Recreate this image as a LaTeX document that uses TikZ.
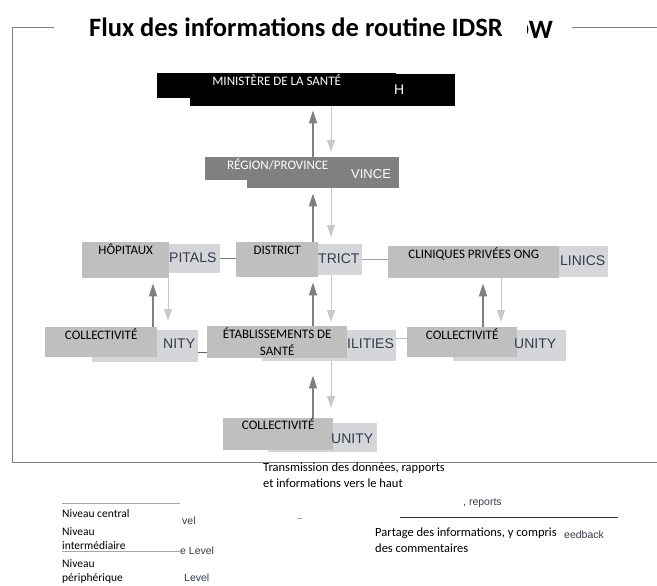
\documentclass[tikz,border=0pt]{standalone}
\usepackage{fontspec}
\setmainfont{Carlito}
\newfontfamily\arialfont{Liberation Sans}
\usetikzlibrary{arrows.meta,positioning,calc}

\definecolor{boxgray}{HTML}{BFBFBF}
\definecolor{backgray}{HTML}{D5D6D9}
\definecolor{regiongray}{HTML}{808080}
\definecolor{fragtext}{HTML}{333B4D}
\definecolor{upgray}{HTML}{7F7F7F}
\definecolor{downgray}{HTML}{C9C9C9}
\definecolor{linkgray}{HTML}{A6A6A6}
\definecolor{framegray}{HTML}{808080}

\newcommand{\lblfont}{\fontsize{13}{17}\selectfont}
\newcommand{\fragfont}{\arialfont\fontsize{14}{16}\selectfont}
\newcommand{\legfont}{\fontsize{11.5}{14}\selectfont}
\newcommand{\flowfont}{\fontsize{12.5}{16}\selectfont}

\begin{document}
\begin{tikzpicture}[
    x=1pt, y=-1pt,
    back/.style={fill=backgray, anchor=north west, inner sep=0pt},
    front/.style={fill=boxgray, anchor=north west, inner sep=0pt},
    lbl/.style={font=\lblfont, anchor=base, yshift=-12.5pt, inner sep=0pt, align=center},
    frag/.style={font=\fragfont, text=fragtext, inner sep=0pt, anchor=west},
    uparr/.style={draw=upgray, line width=1.4pt, -{Triangle[length=13pt,width=8pt]}},
    downarr/.style={draw=downgray, line width=0.8pt, -{Triangle[length=12pt,width=8pt]}},
    link/.style={draw=linkgray, line width=0.7pt},
    legtext/.style={font=\legfont, anchor=base west, inner sep=0pt, align=left},
    legfrag/.style={font=\arialfont\fontsize{10.5}{12}\selectfont, text=fragtext, inner sep=0pt, anchor=west}
]
    \useasboundingbox (0,0) rectangle (657,586);

    % Frame and title
    \node[font=\bfseries\fontsize{26.5}{30}\selectfont, inner sep=0pt] (title) at (296,27) {Flux des informations de routine IDSR};
    \begin{scope}
        \clip (527,5) rectangle (560,50);
        \node[font=\bfseries\fontsize{26.5}{30}\selectfont, inner sep=0pt, anchor=east] (titlefrag) at (553,30) {OW};
    \end{scope}
    \draw[framegray, line width=1pt] (54,28) -- (12,28) -- (12,462) -- (657,462);
    \draw[framegray, line width=1pt] (572,28) -- (657,28);

    % Central level
    \node[back, fill=black, minimum width=265, minimum height=32] (minB) at (190,74) {};
    \node[front, fill=black, minimum width=239, minimum height=25,
          label={[lbl, text=white]north:MINISTÈRE DE LA SANTÉ}] (minF) at (157,73) {};
    \node[frag, text=white] (minfrag) at (394,90) {H};

    % Intermediate level
    \node[back, fill=regiongray, minimum width=152, minimum height=31] (regB) at (247,157) {};
    \node[front, fill=regiongray, minimum width=145, minimum height=23,
          label={[lbl, text=white]north:RÉGION/PROVINCE}] (regF) at (205,157) {};
    \node[frag, text=white, font=\arialfont\fontsize{13}{15}\selectfont] (regfrag) at (351,174) {VINCE};

    % District row
    \node[back, minimum width=100, minimum height=29] (hopB) at (120,244) {};
    \node[front, minimum width=87, minimum height=36, label={[lbl]north:HÔPITAUX}] (hopF) at (82,242) {};
    \node[frag] (hopfrag) at (169,258) {PITALS};

    \node[back, minimum width=100, minimum height=31] (disB) at (262,244) {};
    \node[front, minimum width=82, minimum height=35, label={[lbl]north:DISTRICT}] (disF) at (236,242) {};
    \node[frag] (disfrag) at (318,259) {TRICT};

    \node[back, minimum width=138, minimum height=31] (cliB) at (470,246) {};
    \node[front, minimum width=171, minimum height=32, label={[lbl]north:CLINIQUES PRIVÉES ONG}] (cliF) at (388,246) {};
    \node[frag] (clifrag) at (560,261) {LINICS};

    % Peripheral row
    \node[back, minimum width=106, minimum height=32] (colLB) at (92,330) {};
    \node[front, minimum width=112, minimum height=30, label={[lbl]north:COLLECTIVITÉ}] (colLF) at (45,327) {};
    \node[frag] (colLfrag) at (163,344) {NITY};

    \node[back, minimum width=134, minimum height=31] (etaB) at (262,330) {};
    \node[front, minimum width=140, minimum height=32,
          label={[lbl, yshift=-17pt]north:ÉTABLISSEMENTS DE\\SANTÉ}] (etaF) at (207,326) {};
    \node[frag] (etafrag) at (347,344) {ILITIES};

    \node[back, minimum width=113, minimum height=31] (colRB) at (453,330) {};
    \node[front, minimum width=110, minimum height=30, label={[lbl]north:COLLECTIVITÉ}] (colRF) at (407,327) {};
    \node[frag] (colRfrag) at (514,344) {UNITY};

    \node[back, minimum width=109, minimum height=29] (colBB) at (268,423) {};
    \node[front, minimum width=110, minimum height=32, label={[lbl, yshift=1pt]north:COLLECTIVITÉ}] (colBF) at (223,418) {};
    \node[frag] (colBfrag) at (331,439) {UNITY};

    % Arrow columns
    \coordinate (cUp) at (313,0);
    \coordinate (cDown) at (331,0);
    \coordinate (hUp) at (153,0);
    \coordinate (hDown) at (168,0);
    \coordinate (kUp) at (483,0);
    \coordinate (kDown) at (501,0);

    % Links between neighbours
    \draw[link, draw=upgray] (hopB.east) -- (hopB.east -| disF.west);
    \draw[link] (disB.east) -- (disB.east -| cliF.west);
    \draw[link, draw=upgray!80!black] ([yshift=-6pt]colLB.east) -- ([yshift=-6pt]colLB.east -| etaF.west);
    \draw[link, draw=boxgray] ([yshift=7pt]etaB.east) -- ([yshift=7pt]etaB.east -| colRF.west);

    % Upward and downward flows
    \draw[uparr] (cUp |- regF.north) -- ([yshift=-4pt]cUp |- minB.south);
    \draw[downarr] (cDown |- minB.south) -- ([yshift=5pt]cDown |- regB.north);

    \draw[uparr] (cUp |- disF.north) -- ([yshift=-5pt]cUp |- regB.south);
    \draw[downarr] (cDown |- regB.south) -- ([yshift=5pt]cDown |- disF.north);

    \draw[uparr] (hUp |- colLF.north) -- ([yshift=-5pt]hUp |- hopF.south);
    \draw[downarr] (hDown |- hopF.south) -- ([yshift=6pt]hDown |- colLF.north);

    \draw[uparr] (cUp |- etaF.north) -- ([yshift=-5pt]cUp |- disF.south);
    \draw[downarr] (cDown |- disB.south) -- ([yshift=4pt]cDown |- etaF.north);

    \draw[uparr] (kUp |- colRF.north) -- ([yshift=-5pt]kUp |- cliF.south);
    \draw[downarr] (kDown |- cliF.south) -- ([yshift=5pt]kDown |- colRF.north);

    \draw[uparr] (cUp |- colBF.north) -- ([yshift=-14pt]cUp |- etaB.south);
    \draw[downarr] (cDown |- etaB.south) -- ([yshift=10pt]cDown |- colBF.north);

    % Legend, levels
    \draw[linkgray, line width=0.7pt] (62,503) -- (180,503);
    \node[legtext] (lvlC) at (62,517) {Niveau central};
    \node[legfrag] (lvlCfrag) at (182,521) {vel};
    \node[legtext] (lvlI) at (62,549) {Niveau\\intermédiaire};
    \draw[linkgray, line width=0.7pt] (62,551) -- (180,551);
    \node[legfrag] (lvlIfrag) at (180,551) {e Level};
    \node[legtext] (lvlP) at (62,581) {Niveau\\périphérique};
    \node[legfrag] (lvlPfrag) at (184,578) {Level};

    % Legend, flows
    \node[legtext, font=\flowfont] (flowUp) at (263,487) {Transmission des données, rapports\\et informations vers le haut};
    \node[legfrag] (flowUpfrag) at (463,503) {, reports};
    \draw[linkgray, line width=0.6pt] (297,518) -- (302,518);
    \draw[black!80, line width=0.8pt] (400,517) -- (618,517);
    \node[legtext, font=\flowfont] (flowDown) at (375,552) {Partage des informations, y compris\\des commentaires};
    \node[legfrag] (flowDownfrag) at (564,535) {eedback};
\end{tikzpicture}
\end{document}
